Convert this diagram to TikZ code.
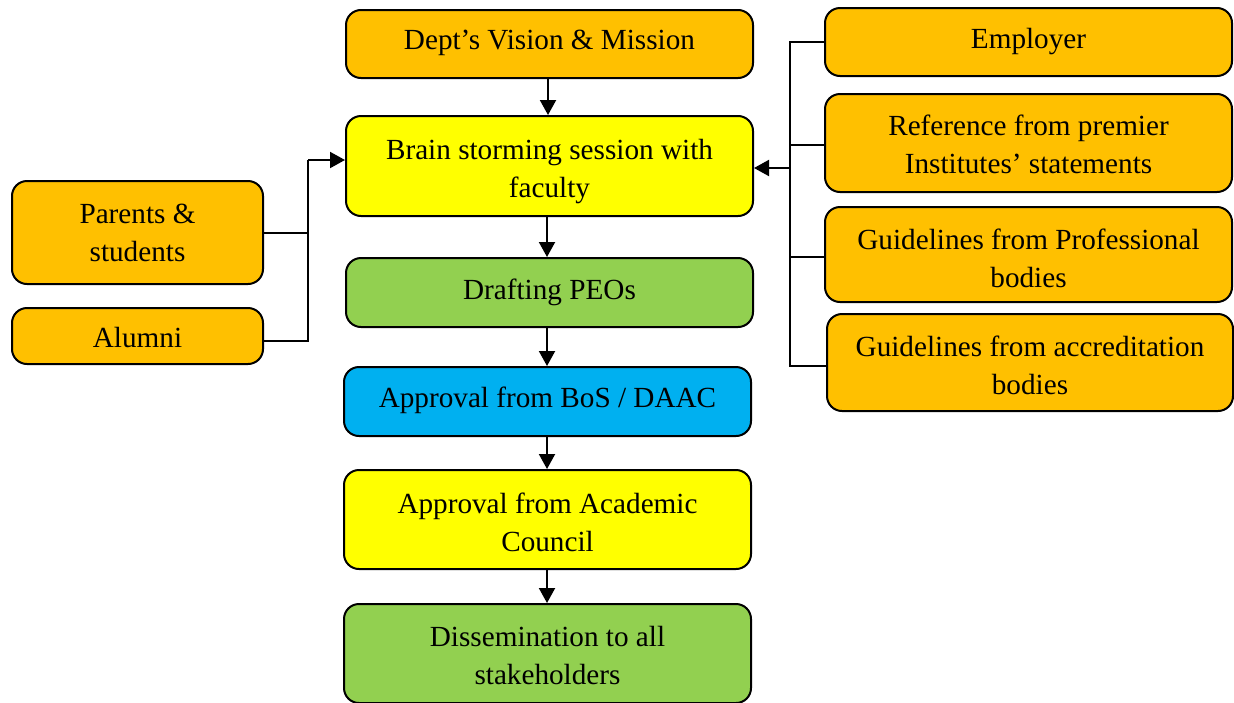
\documentclass[tikz,border=0pt]{standalone}
\usepackage{fontspec}
\setmainfont{Liberation Serif}
\usetikzlibrary{arrows.meta}
\definecolor{boxorange}{HTML}{FFC000}
\definecolor{boxyellow}{HTML}{FFFF00}
\definecolor{boxgreen}{HTML}{92D050}
\definecolor{boxblue}{HTML}{00B0F0}
% \flowbox[text drop]{name}{left}{top}{right}{bottom}{fill}{text}
\newcommand\flowbox[8][0]{%
  \node[box, fill=#7, minimum width={(#5-#3)*0.5pt}, minimum height={(#6-#4)*0.5pt}]
    (#2) at ({(#3+#5)/2},{(#4+#6)/2}) {};
  \node[boxtext] at ([yshift={-#1*0.5pt}]#2.center) {#8};}
\begin{document}
\begin{tikzpicture}[x=0.5pt,y=-0.5pt,
  box/.style={draw, line width=1pt, rounded corners=7.5pt, inner sep=0pt},
  boxtext/.style={align=center, inner sep=0pt, font=\fontsize{14.6}{19}\selectfont},
  link/.style={line width=1pt},
  arrow/.style={link, -{Triangle[length=7.5pt,width=8pt]}}]
\useasboundingbox (0,0) rectangle (1234,702);

% central chain
\flowbox[-1]{dept}{346}{10}{753}{78}{boxorange}{Dept’s Vision \& Mission}
\flowbox[6]{brain}{346}{116}{753}{216}{boxyellow}{Brain storming session with\\faculty}
\flowbox{draft}{346}{258}{753}{327}{boxgreen}{Drafting PEOs}
\flowbox[-1]{bos}{344}{367}{751}{436}{boxblue}{Approval from BoS / DAAC}
\flowbox[3]{council}{344}{470}{751}{569}{boxyellow}{Approval from Academic\\Council}
\flowbox[2]{dissem}{344}{604}{751}{703}{boxgreen}{Dissemination to all\\stakeholders}

% left inputs
\flowbox{parents}{12}{181}{263}{284}{boxorange}{Parents \&\\students}
\flowbox[2]{alumni}{12}{308}{263}{364}{boxorange}{Alumni}

% right inputs
\flowbox{employer}{825}{8}{1232}{76}{boxorange}{Employer}
\flowbox[1]{premier}{825}{94}{1232}{192}{boxorange}{Reference from premier\\Institutes’ statements}
\flowbox[4]{prof}{825}{207}{1232}{302}{boxorange}{Guidelines from Professional\\bodies}
\flowbox[3]{accred}{827}{314}{1233}{411}{boxorange}{Guidelines from accreditation\\bodies}

% chain arrows
\draw[arrow] ([xshift=-0.75pt]dept.south) -- ([xshift=-0.75pt]dept.south |- brain.north);
\draw[arrow] ([xshift=-1.25pt]draft.north |- brain.south) -- ([xshift=-1.25pt]draft.north);
\draw[arrow] ([xshift=-0.25pt]bos.north |- draft.south) -- ([xshift=-0.25pt]bos.north);
\draw[arrow] ([xshift=-0.25pt]bos.south) -- ([xshift=-0.25pt]bos.south |- council.north);
\draw[arrow] ([xshift=-0.25pt]council.south) -- ([xshift=-0.25pt]council.south |- dissem.north);

% left bus
\coordinate (lj) at (308,160);
\draw[link] (parents.east) -| (lj);
\draw[link] ([yshift=-2.5pt]alumni.east) -| (lj);
\draw[arrow] (lj) -- (brain.west |- lj);

% right bus
\coordinate (rt) at (790,42);
\coordinate (rb) at (790,366);
\coordinate (rm) at (790,168);
\draw[link] (employer.west |- rt) -- (rt) -- (rb) -- (accred.west |- rb);
\draw[link] ([yshift=-1pt]premier.west) -- ([yshift=-1pt]premier.west -| rm);
\draw[link] ([yshift=-1pt]prof.west) -- ([yshift=-1pt]prof.west -| rm);
\draw[arrow] (rm) -- (brain.east |- rm);
\end{tikzpicture}
\end{document}
